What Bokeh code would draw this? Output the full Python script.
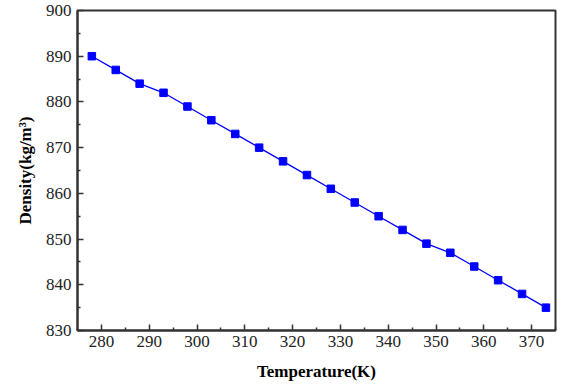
from bokeh.plotting import figure
from bokeh.models import Range1d, FixedTicker
from bokeh.embed import file_html
from bokeh.resources import INLINE

temperature = [278, 283, 288, 293, 298, 303, 308, 313, 318, 323,
               328, 333, 338, 343, 348, 353, 358, 363, 368, 373]
density = [890, 887, 884, 882, 879, 876, 873, 870, 867, 864,
           861, 858, 855, 852, 849, 847, 844, 841, 838, 835]
x_ticks = [280, 290, 300, 310, 320, 330, 340, 350, 360, 370]
y_ticks = [830, 840, 850, 860, 870, 880, 890, 900]

FONT = "Liberation Serif"

p = figure(width=576, height=389, output_backend="svg", toolbar_location=None,
           x_range=Range1d(275, 375), y_range=Range1d(830, 900))
p.min_border_left = 77
p.min_border_right = 21
p.min_border_top = 10
p.min_border_bottom = 59
p.background_fill_color = "white"
p.border_fill_color = "white"
p.grid.visible = False
p.outline_line_color = "#333333"
p.outline_line_width = 2

p.line(temperature, density, line_color="#0000ff", line_width=1.3)
p.scatter(temperature, density, marker="square", size=7.5,
          fill_color="#0000ff", line_color="#0000ff")

for ax in (p.xaxis[0], p.yaxis[0]):
    ax.axis_line_color = "#333333"
    ax.axis_line_width = 2
    ax.major_tick_in = 6
    ax.major_tick_out = 0
    ax.minor_tick_in = 3
    ax.minor_tick_out = 0
    ax.major_tick_line_color = "#333333"
    ax.minor_tick_line_color = "#333333"
    ax.major_tick_line_width = 1.5
    ax.minor_tick_line_width = 1.5
    ax.major_label_text_font = FONT
    ax.major_label_text_font_size = "17px"
    ax.major_label_text_color = "#222222"
    ax.axis_label_text_font = FONT
    ax.axis_label_text_font_style = "bold"
    ax.axis_label_text_font_size = "17px"
    ax.axis_label_text_color = "black"

p.xaxis[0].ticker = FixedTicker(ticks=x_ticks,
                                minor_ticks=[t + 5 for t in [270] + x_ticks])
p.yaxis[0].ticker = FixedTicker(ticks=y_ticks,
                                minor_ticks=[t + 5 for t in y_ticks])
p.xaxis[0].major_label_standoff = 5
p.yaxis[0].major_label_standoff = 6
p.xaxis[0].axis_label = "Temperature(K)"
p.yaxis[0].axis_label = "Density(kg/m³)"
p.xaxis[0].axis_label_standoff = 12
p.yaxis[0].axis_label_standoff = 8

open("out.html", "w").write(file_html(p, INLINE))
